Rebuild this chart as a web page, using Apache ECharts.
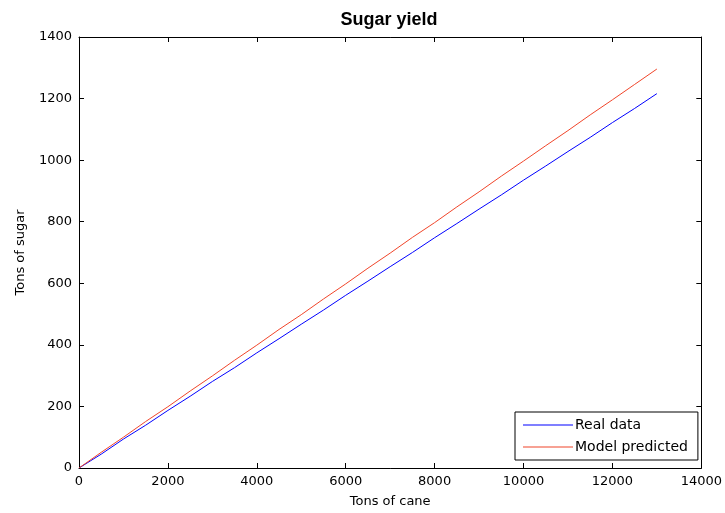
<!DOCTYPE html>
<html><head><meta charset="utf-8">
<script src="https://cdn.jsdelivr.net/npm/echarts@6/dist/echarts.min.js"></script>
<style>html,body{margin:0;padding:0;background:#fff}#c{width:725px;height:513px}</style>
</head><body><div id="c"></div>
<script>
const tonsCane = [0,500,1000,1500,2000,2500,3000,3500,4000,4500,5000,5500,6000,6500,7000,7500,8000,8500,9000,9500,10000,10500,11000,11500,12000,12500,13000];
const realData = [0,45,94,139,187,233,281,326,374,420,467,513,561,607,654,700,748,794,841,887,935,981,1028,1074,1122,1168,1216];
const modelPredicted = [0,51,100,151,199,250,299,350,399,450,498,549,598,649,698,749,797,848,897,948,997,1047,1096,1147,1196,1246,1296];
const xTicks = [0,2000,4000,6000,8000,10000,12000,14000];
const yTicks = [0,200,400,600,800,1000,1200,1400];

const chart = echarts.init(document.getElementById('c'));
const font = 'DejaVu Sans, Verdana, sans-serif';
const mk = () => ({
  axisLine:{show:true,onZero:false,lineStyle:{color:'#000',width:1}},
  axisTick:{show:true,inside:true,length:5,lineStyle:{color:'#000'}},
  splitLine:{show:false}
});
const lineIcon = 'path://M0,0 H50 V1 H0 Z';
const blue = '#0000ff', red = '#f0452a';
chart.setOption({
  backgroundColor:'#fff',
  animation:false,
  title:{text:'Sugar yield',left:384,top:6,textAlign:'center',textStyle:{fontFamily:'Liberation Sans, Arial, sans-serif',fontSize:18,fontWeight:'bold',color:'#000'}},
  grid:{left:79,right:21,top:37,bottom:44,containLabel:false},
  legend:{
    orient:'vertical',left:515,top:412,
    backgroundColor:'#fff',borderColor:'#000',borderWidth:1,
    padding:[6,10,6,8],itemWidth:50,itemHeight:12,itemGap:8,
    textStyle:{fontFamily:font,fontSize:14,color:'#000',padding:[0,0,0,-3]},
    data:[{name:'Real data',icon:lineIcon,itemStyle:{color:blue}},{name:'Model predicted',icon:lineIcon,itemStyle:{color:red}}]
  },
  xAxis:[
    Object.assign(mk(),{type:'value',min:0,max:14000,interval:2000,position:'bottom',
      name:'Tons of cane',nameLocation:'middle',nameGap:27,
      nameTextStyle:{fontFamily:font,fontSize:13,color:'#000'},
      axisLabel:{fontFamily:font,fontSize:13,color:'#000',margin:7,
        formatter:v=>xTicks.includes(v)?String(v):''}}),
    Object.assign(mk(),{type:'value',min:0,max:14000,interval:2000,position:'top',axisLabel:{show:false}})
  ],
  yAxis:[
    Object.assign(mk(),{type:'value',min:0,max:1400,interval:200,position:'left',
      name:'Tons of sugar',nameLocation:'middle',nameGap:52,
      nameTextStyle:{fontFamily:font,fontSize:13,color:'#000'},
      axisLabel:{fontFamily:font,fontSize:13,color:'#000',margin:7,
        formatter:v=>yTicks.includes(v)?String(v):''}}),
    Object.assign(mk(),{type:'value',min:0,max:1400,interval:200,position:'right',axisLabel:{show:false}})
  ],
  series:[
    {name:'Real data',type:'line',symbol:'none',xAxisIndex:0,yAxisIndex:0,
     lineStyle:{color:blue,width:1},itemStyle:{color:blue},
     data:tonsCane.map((x,i)=>[x,realData[i]])},
    {name:'Model predicted',type:'line',symbol:'none',xAxisIndex:0,yAxisIndex:0,
     lineStyle:{color:red,width:1},itemStyle:{color:red},
     data:tonsCane.map((x,i)=>[x,modelPredicted[i]])}
  ]
});
</script></body></html>
